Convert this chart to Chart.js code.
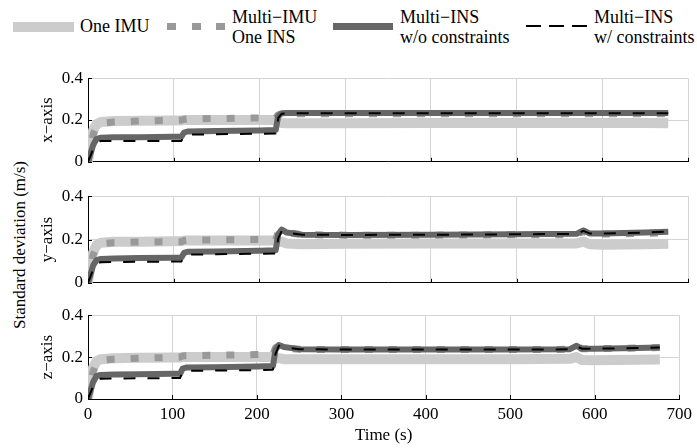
<!DOCTYPE html>
<html>
<head>
<meta charset="utf-8">
<script src="https://cdn.jsdelivr.net/npm/chart.js@4"></script>
<style>
  body { margin: 0; background: #fff; }
  #wrap { position: relative; width: 697px; height: 448px; font-family: "Times New Roman", "Liberation Serif", "DejaVu Serif", serif; color: #000; }
  canvas { position: absolute; left: 0; }
  .lg { position: absolute; font-size: 18px; line-height: 20px; white-space: nowrap; }
  .sw { position: absolute; }
  #ylab { position: absolute; left: 20px; top: 245px; font-size: 17px; white-space: nowrap;
          transform: translate(-50%, -50%) rotate(-90deg); }
</style>
</head>
<body>
<div id="wrap">
  <div class="sw" style="left:13px;top:22px;width:61px;height:10px;background:#cccccc"></div>
  <div class="lg" style="left:80px;top:16px">One IMU</div>
  <div class="sw" style="left:167px;top:23px;width:59px;height:7px;background:repeating-linear-gradient(to right,#999 0 9px,transparent 9px 24.5px)"></div>
  <div class="lg" style="left:232px;top:7px">Multi−IMU<br>One INS</div>
  <div class="sw" style="left:333px;top:23px;width:60px;height:7px;background:#666666"></div>
  <div class="lg" style="left:400px;top:7px">Multi−INS<br>w/o constraints</div>
  <div class="sw" style="left:526px;top:25px;width:61px;height:2px;background:repeating-linear-gradient(to right,#000 0 15px,transparent 15px 23px)"></div>
  <div class="lg" style="left:594px;top:7px">Multi−INS<br>w/ constraints</div>
  <div id="ylab">Standard deviation (m/s)</div>
  <canvas id="c1" width="697" height="114" style="top:63px"></canvas>
  <canvas id="c2" width="697" height="117" style="top:181px"></canvas>
  <canvas id="c3" width="697" height="148" style="top:300px"></canvas>
</div>
<script>
const FONT = "'Times New Roman', 'Liberation Serif', 'DejaVu Serif', serif";

// time axis (s)
const time = [0, 3, 6, 10, 15, 30, 60, 100, 109, 112, 116, 150, 200, 219, 222, 226, 232, 250, 300, 400, 500, 570, 578, 585, 600, 650, 677];

const seriesNames = ["One IMU", "Multi-IMU One INS", "Multi-INS w/o constraints", "Multi-INS w/ constraints"];

// x-axis
const xOneImu   = [0, 0.10, 0.15, 0.18, 0.19, 0.195, 0.197, 0.198, 0.198, 0.2, 0.2, 0.2, 0.2, 0.2, 0.19, 0.186, 0.185, 0.185, 0.185, 0.186, 0.186, 0.186, 0.186, 0.186, 0.186, 0.186, 0.185];
const xMultiImu = [0, 0.07, 0.13, 0.17, 0.185, 0.19, 0.195, 0.198, 0.199, 0.203, 0.205, 0.207, 0.21, 0.21, 0.225, 0.23, 0.23, 0.23, 0.23, 0.23, 0.23, 0.23, 0.23, 0.23, 0.23, 0.23, 0.23];
const xNoCons   = [0, 0.04, 0.08, 0.11, 0.115, 0.117, 0.118, 0.12, 0.12, 0.14, 0.145, 0.147, 0.15, 0.152, 0.22, 0.232, 0.234, 0.234, 0.234, 0.234, 0.234, 0.234, 0.234, 0.234, 0.234, 0.234, 0.234];
const xCons     = [0, 0.03, 0.06, 0.09, 0.1, 0.1, 0.1, 0.1, 0.1, 0.125, 0.13, 0.132, 0.134, 0.135, 0.21, 0.23, 0.232, 0.232, 0.232, 0.232, 0.232, 0.232, 0.232, 0.232, 0.232, 0.232, 0.232];

// y-axis
const yOneImu   = [0, 0.09, 0.14, 0.175, 0.185, 0.19, 0.19, 0.192, 0.193, 0.195, 0.195, 0.195, 0.195, 0.195, 0.19, 0.19, 0.182, 0.178, 0.18, 0.182, 0.182, 0.182, 0.19, 0.178, 0.176, 0.178, 0.18];
const yMultiImu = [0, 0.07, 0.13, 0.165, 0.18, 0.185, 0.188, 0.19, 0.19, 0.195, 0.197, 0.198, 0.2, 0.2, 0.235, 0.245, 0.232, 0.222, 0.22, 0.22, 0.222, 0.222, 0.238, 0.225, 0.225, 0.228, 0.232];
const yNoCons   = [0, 0.04, 0.08, 0.105, 0.11, 0.112, 0.114, 0.116, 0.117, 0.138, 0.143, 0.145, 0.148, 0.15, 0.225, 0.246, 0.232, 0.222, 0.221, 0.222, 0.224, 0.226, 0.242, 0.228, 0.228, 0.232, 0.236];
const yCons     = [0, 0.03, 0.06, 0.09, 0.095, 0.096, 0.097, 0.098, 0.098, 0.125, 0.13, 0.132, 0.134, 0.135, 0.205, 0.24, 0.232, 0.222, 0.221, 0.222, 0.224, 0.226, 0.24, 0.228, 0.228, 0.232, 0.236];

// z-axis
const zOneImu   = [0, 0.10, 0.15, 0.18, 0.19, 0.195, 0.197, 0.198, 0.198, 0.2, 0.2, 0.2, 0.2, 0.2, 0.195, 0.195, 0.19, 0.19, 0.19, 0.19, 0.19, 0.192, 0.2, 0.186, 0.185, 0.187, 0.188];
const zMultiImu = [0, 0.07, 0.13, 0.17, 0.185, 0.19, 0.195, 0.198, 0.2, 0.205, 0.207, 0.209, 0.212, 0.214, 0.245, 0.255, 0.245, 0.237, 0.236, 0.236, 0.236, 0.237, 0.252, 0.24, 0.24, 0.243, 0.246];
const zNoCons   = [0, 0.04, 0.08, 0.11, 0.115, 0.117, 0.118, 0.12, 0.12, 0.145, 0.15, 0.152, 0.155, 0.157, 0.235, 0.258, 0.248, 0.238, 0.236, 0.236, 0.236, 0.237, 0.254, 0.24, 0.24, 0.243, 0.246];
const zCons     = [0, 0.03, 0.06, 0.09, 0.097, 0.098, 0.099, 0.1, 0.1, 0.13, 0.134, 0.136, 0.138, 0.14, 0.215, 0.255, 0.246, 0.238, 0.236, 0.236, 0.236, 0.237, 0.252, 0.24, 0.24, 0.243, 0.246];

const xTicks = [0, 100, 200, 300, 400, 500, 600, 700];
const yTicks = [0, 0.2, 0.4];

const styles = [
  { color: "#cccccc", width: 10, dash: [], order: 3 },
  { color: "#999999", width: 7, dash: [8, 16], order: 2 },
  { color: "#666666", width: 6, dash: [], order: 1 },
  { color: "#000000", width: 2, dash: [12, 12], order: 0 },
];

// small black ticks inside the plot on bottom and left axes
const innerTicks = {
  id: "innerTicks",
  afterDraw(chart) {
    const { ctx, chartArea: a, scales } = chart;
    ctx.save();
    ctx.strokeStyle = "#000";
    ctx.lineWidth = 1;
    ctx.beginPath();
    xTicks.forEach(v => {
      const px = Math.round(scales.x.getPixelForValue(v)) + 0.5;
      ctx.moveTo(px, a.bottom);
      ctx.lineTo(px, a.bottom - 4);
    });
    yTicks.forEach(v => {
      const py = Math.round(scales.y.getPixelForValue(v)) + 0.5;
      ctx.moveTo(a.left, py);
      ctx.lineTo(a.left + 4, py);
    });
    ctx.stroke();
    ctx.restore();
  }
};

function makeChart(id, data, yTitle, last) {
  new Chart(document.getElementById(id), {
    type: "line",
    data: {
      datasets: data.map((vals, i) => ({
        label: seriesNames[i],
        data: time.map((t, k) => ({ x: t, y: vals[k] })),
        borderColor: styles[i].color,
        borderWidth: styles[i].width,
        borderDash: styles[i].dash,
        borderJoinStyle: "round",
        order: styles[i].order,
        pointRadius: 0,
        tension: 0,
        fill: false,
      })),
    },
    options: {
      responsive: false,
      animation: false,
      layout: { padding: { left: 34, right: 9, top: 0, bottom: 0 } },
      plugins: { legend: { display: false }, tooltip: { enabled: false } },
      scales: {
        x: {
          type: "linear",
          min: 0,
          max: 700,
          afterBuildTicks: s => { s.ticks = xTicks.map(v => ({ value: v })); },
          afterFit: s => { s.height = last ? 49 : 10; },
          grid: { color: "#d4d4d4", drawTicks: false },
          border: { color: "#000" },
          ticks: {
            display: last,
            padding: 5,
            color: "#000",
            font: { family: FONT, size: 17 },
            maxRotation: 0,
          },
          title: {
            display: last,
            text: "Time (s)",
            color: "#000",
            padding: { top: 0, bottom: 2 },
            font: { family: FONT, size: 17 },
          },
        },
        y: {
          min: 0,
          max: 0.4,
          afterBuildTicks: s => { s.ticks = yTicks.map(v => ({ value: v })); },
          afterFit: s => { s.width = 54; },
          grid: { color: "#d4d4d4", drawTicks: false },
          border: { color: "#000" },
          ticks: {
            padding: 5,
            color: "#000",
            font: { family: FONT, size: 17 },
            callback: v => (v === 0 ? "0" : v.toFixed(1)),
          },
          title: {
            display: true,
            text: yTitle,
            color: "#000",
            padding: { top: 3, bottom: 0 },
            font: { family: FONT, size: 17 },
          },
        },
      },
    },
    plugins: [innerTicks],
  });
}

makeChart("c1", [xOneImu, xMultiImu, xNoCons, xCons], "x−axis", false);
makeChart("c2", [yOneImu, yMultiImu, yNoCons, yCons], "y−axis", false);
makeChart("c3", [zOneImu, zMultiImu, zNoCons, zCons], "z−axis", true);
</script>
</body>
</html>
